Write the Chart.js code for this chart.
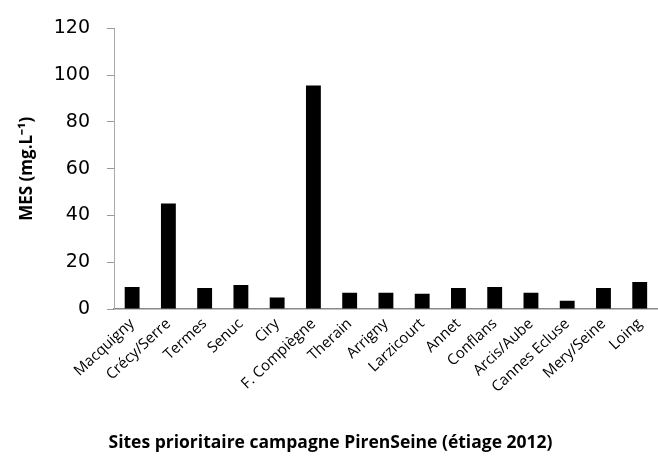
<!DOCTYPE html>
<html>
<head>
<meta charset="utf-8">
<script src="https://cdn.jsdelivr.net/npm/chart.js@4"></script>
<style>
  html, body { margin: 0; padding: 0; background: #fff; overflow: hidden; }
  #wrap { width: 658px; height: 456px; position: relative; }
</style>
</head>
<body>
<div id="wrap"><canvas id="c" width="658" height="456"></canvas></div>
<script>
const categories = ["Macquigny", "Crécy/Serre", "Termes", "Senuc", "Ciry", "F. Compiègne", "Therain", "Arrigny", "Larzicourt", "Annet", "Conflans", "Arcis/Aube", "Cannes Ecluse", "Mery/Seine", "Loing"];
const mesValues = [9.4, 45.1, 9.0, 10.3, 4.9, 95.6, 6.9, 6.9, 6.5, 9.0, 9.4, 6.9, 3.5, 9.0, 11.6];
const yTicks = [0, 20, 40, 60, 80, 100, 120];
const yTitle = "MES (mg.L⁻¹)";
const xTitle = "Sites prioritaire campagne PirenSeine (étiage 2012)";

const FONT = "'Open Sans', sans-serif";

new Chart(document.getElementById('c'), {
  type: 'bar',
  data: {
    labels: categories,
    datasets: [{
      data: mesValues,
      backgroundColor: '#000',
      borderWidth: 0,
      categoryPercentage: 1,
      barPercentage: 0.41
    }]
  },
  options: {
    responsive: false,
    animation: false,
    layout: { padding: { top: 25, left: 0, right: -3, bottom: 0 } },
    plugins: {
      legend: { display: false },
      tooltip: { enabled: false },
      title: {
        display: true,
        position: 'bottom',
        text: xTitle,
        color: '#000',
        font: { family: FONT, size: 17.5, weight: 'bold' },
        padding: { top: 0, bottom: 2 }
      }
    },
    scales: {
      x: {
        grid: { display: false, drawTicks: false },
        border: { display: true, color: '#888', width: 1.5 },
        ticks: {
          color: '#000',
          font: { family: FONT, size: 15 },
          minRotation: 43,
          maxRotation: 43,
          autoSkip: false,
          padding: 6
        },
        afterFit: (s) => { s.height = 124; }
      },
      y: {
        min: 0,
        max: 120,
        afterBuildTicks: (s) => { s.ticks = yTicks.map(v => ({ value: v })); },
        grid: { drawOnChartArea: false, drawTicks: true, tickLength: 7, color: '#999' },
        border: { display: true, color: '#aaa', width: 1 },
        ticks: {
          color: '#000',
          font: { family: "'DejaVu Sans', sans-serif", size: 19 },
          padding: 17
        },
        title: {
          display: true,
          text: yTitle,
          color: '#000',
          font: { family: FONT, size: 17, weight: 'bold' },
          padding: { top: 17, bottom: 0 }
        },
        afterFit: (s) => { s.width = 114; }
      }
    }
  }
});
</script>
</body>
</html>
